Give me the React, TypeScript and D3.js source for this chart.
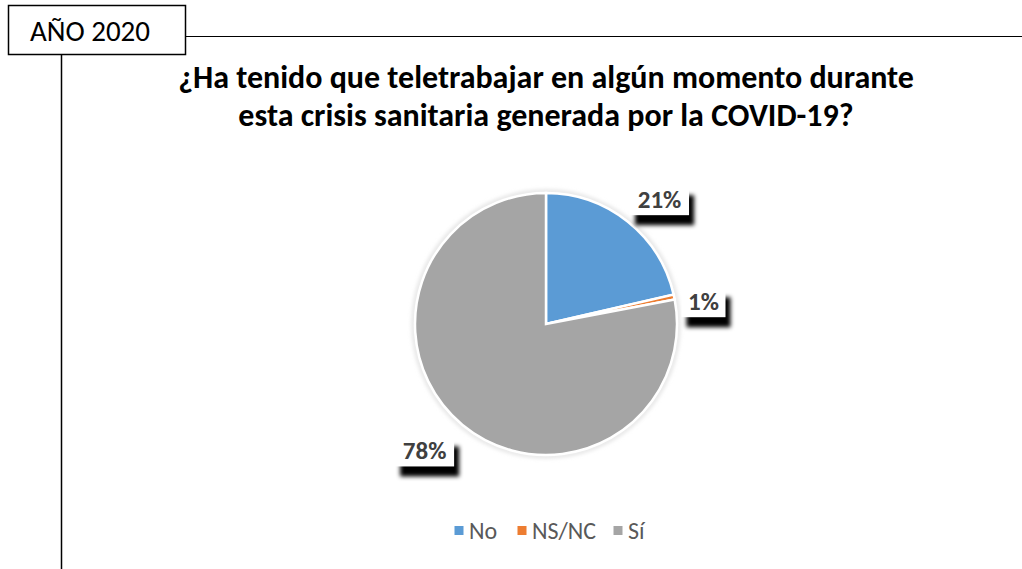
import * as d3 from 'd3';

const categories = ['No', 'NS/NC', 'Sí'];
const values = [21.4, 0.6, 78.0];
const labels = ['21%', '1%', '78%'];
const colors = ['#5b9bd5', '#ed7d31', '#a5a5a5'];
const titleLines = [
  '¿Ha tenido que teletrabajar en algún momento durante',
  'esta crisis sanitaria generada por la COVID-19?',
];

const W = 1022;
const H = 569;
const CX = 546;
const CY = 324;
const R = 131;
// data label placement (radius from centre, small angular shift like Excel's "best fit")
const LABEL_R = [168, 159, 176];
const LABEL_SHIFT = (4 * Math.PI) / 180;
const FONT = 'Carlito, Calibri, "Open Sans", "Noto Sans", sans-serif';

const App = () => {
  const pie = d3
    .pie<number>()
    .sort(null)
    .value((d) => d);
  const arcs = pie(values);
  const arc = d3.arc<d3.PieArcDatum<number>>().innerRadius(0).outerRadius(R);

  // legend positions (square x)
  const legendX = [459, 522, 618];

  return (
    <svg
      width={W}
      height={H}
      style={{ position: 'absolute', left: 0, top: 0, background: '#fff' }}
    >
      <defs>
        <filter id="shadow" x="-30%" y="-30%" width="160%" height="180%">
          <feGaussianBlur stdDeviation="2" />
        </filter>
        <filter id="glow" x="-10%" y="-10%" width="120%" height="120%">
          <feGaussianBlur stdDeviation="2" />
        </filter>
      </defs>

      {/* frame */}
      <line x1={186} x2={W} y1={36.5} y2={36.5} stroke="#000" strokeWidth={1} />
      <line x1={61.5} x2={61.5} y1={55} y2={H} stroke="#000" strokeWidth={1.5} />
      <rect x={8.5} y={5.5} width={177} height={49} fill="#fff" stroke="#000" strokeWidth={1.5} />
      <text x={90} y={41} textAnchor="middle" fontSize={29} fontFamily={FONT} fill="#000">
        AÑO 2020
      </text>

      {/* title */}
      {titleLines.map((t, i) => (
        <text
          key={i}
          x={CX}
          y={88 + i * 38}
          textAnchor="middle"
          fontSize={32}
          fontWeight="bold"
          fontFamily={FONT}
          fill="#000"
        >
          {t}
        </text>
      ))}

      {/* pie */}
      <g transform={`translate(${CX},${CY})`}>
        <circle r={R + 1.5} fill="none" stroke="#d9d9d9" strokeWidth={3} filter="url(#glow)" />
        {arcs.map((a, i) => (
          <path key={i} d={arc(a) ?? ''} fill={colors[i]} stroke="#fff" strokeWidth={2.5} />
        ))}
        {arcs.map((a, i) => {
          const mid = (a.startAngle + a.endAngle) / 2 + LABEL_SHIFT;
          const x = Math.sin(mid) * LABEL_R[i];
          const y = -Math.cos(mid) * LABEL_R[i];
          const w = labels[i].length * 15 + 14;
          const h = 30;
          return (
            <g key={i} transform={`translate(${x},${y})`}>
              <rect
                x={-w / 2 + 5}
                y={-h / 2 + 10}
                width={w}
                height={h}
                fill="#000"
                filter="url(#shadow)"
              />
              <rect x={-w / 2} y={-h / 2} width={w} height={h} fill="#fff" />
              <text
                x={0}
                y={8}
                textAnchor="middle"
                fontSize={25}
                fontWeight="bold"
                fontFamily={FONT}
                fill="#404040"
              >
                {labels[i]}
              </text>
            </g>
          );
        })}
      </g>

      {/* legend */}
      {categories.map((c, i) => (
        <g key={c}>
          <rect x={legendX[i] - 4.5} y={526} width={9} height={9} fill={colors[i]} />
          <text x={legendX[i] + 10} y={539} fontSize={24} fontFamily={FONT} fill="#595959">
            {c}
          </text>
        </g>
      ))}
    </svg>
  );
};

export default App;
